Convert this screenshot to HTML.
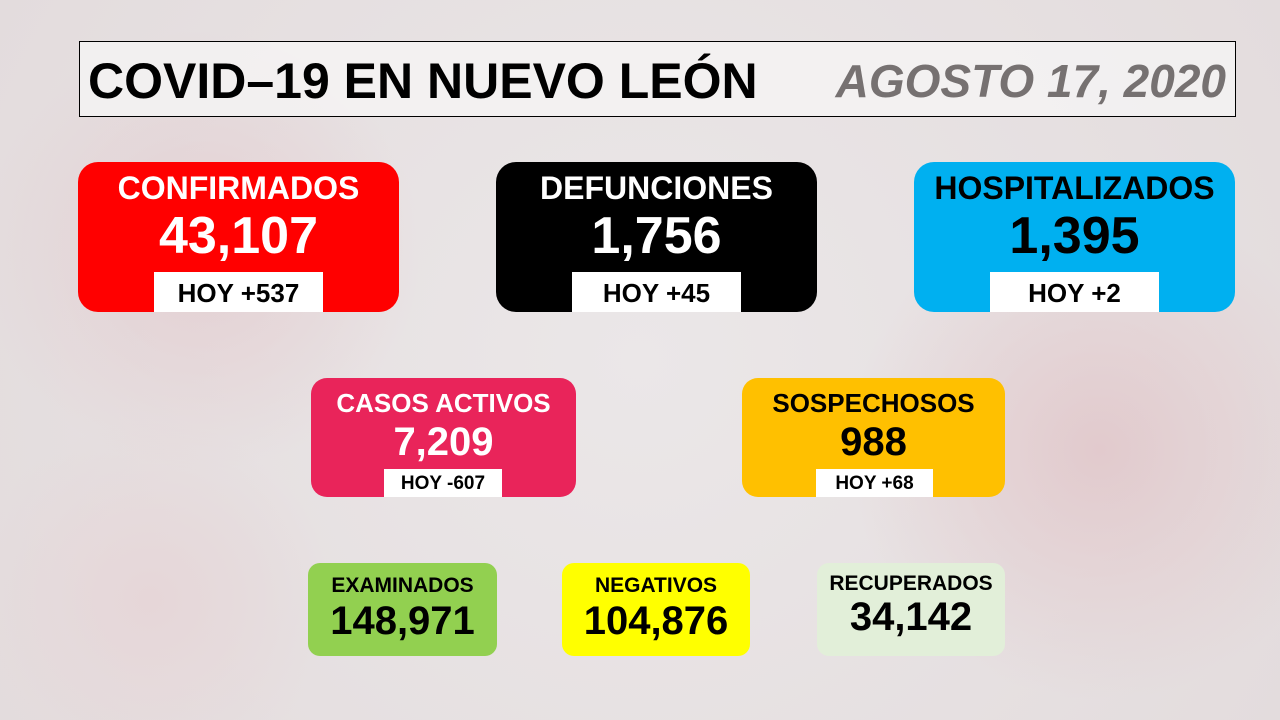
<!DOCTYPE html>
<html><head><meta charset="utf-8"><style>
body{margin:0;width:1280px;height:720px;overflow:hidden;font-family:"Liberation Sans",sans-serif;font-weight:bold;
background:radial-gradient(circle at 200px 250px,#e4cfd2 0,transparent 220px),radial-gradient(circle at 1100px 450px,#e2cacd 0,transparent 250px),radial-gradient(circle at 150px 600px,#e6d6d8 0,transparent 180px),radial-gradient(circle at 640px 360px,#ebe7e8 0,#e3dcdd 100%);position:relative}
.a{position:absolute;box-sizing:border-box}
.box{border-radius:20px;text-align:center}
.t,.n{position:absolute;left:0;right:0;text-align:center;line-height:1}
.l{position:absolute;background:#fff;color:#000;text-align:center}
</style></head><body>
<div class="a" style="left:79px;top:41px;width:1157px;height:76px;border:1px solid #000;background:rgba(245,243,243,.85)"></div>
<div class="a" style="left:88px;top:53px;font-size:50px;line-height:56px;color:#000">COVID–19 EN NUEVO LEÓN</div>
<div class="a" style="right:54px;top:53px;font-size:46px;line-height:56px;color:#767171;font-style:italic">AGOSTO 17, 2020</div>

<div class="a box" style="left:78px;top:162px;width:321px;height:150px;background:#ff0000;color:#fff">
<div class="t" style="top:10px;font-size:32px">CONFIRMADOS</div><div class="n" style="top:48px;font-size:52px">43,107</div>
<div class="l" style="left:76px;top:110px;width:169px;height:40px;font-size:26px;line-height:42px">HOY +537</div></div>
<div class="a box" style="left:496px;top:162px;width:321px;height:150px;background:#000;color:#fff">
<div class="t" style="top:10px;font-size:32px">DEFUNCIONES</div><div class="n" style="top:48px;font-size:52px">1,756</div>
<div class="l" style="left:76px;top:110px;width:169px;height:40px;font-size:26px;line-height:42px">HOY +45</div></div>
<div class="a box" style="left:914px;top:162px;width:321px;height:150px;background:#00b0f0;color:#000">
<div class="t" style="top:10px;font-size:32px">HOSPITALIZADOS</div><div class="n" style="top:48px;font-size:52px">1,395</div>
<div class="l" style="left:76px;top:110px;width:169px;height:40px;font-size:26px;line-height:42px">HOY +2</div></div>

<div class="a box" style="left:311px;top:378px;width:265px;height:119px;background:#e9245a;color:#fff;border-radius:16px">
<div class="t" style="top:12px;font-size:26px">CASOS ACTIVOS</div><div class="n" style="top:44px;font-size:40px">7,209</div>
<div class="l" style="left:73px;top:91px;width:118px;height:28px;font-size:19px;line-height:30px">HOY -607</div></div>
<div class="a box" style="left:742px;top:378px;width:263px;height:119px;background:#ffc000;color:#000;border-radius:16px">
<div class="t" style="top:12px;font-size:26px">SOSPECHOSOS</div><div class="n" style="top:44px;font-size:40px">988</div>
<div class="l" style="left:74px;top:91px;width:117px;height:28px;font-size:19px;line-height:30px">HOY +68</div></div>

<div class="a box" style="left:308px;top:563px;width:189px;height:93px;background:#92d050;color:#000;border-radius:12px">
<div class="t" style="top:12px;font-size:21px">EXAMINADOS</div><div class="n" style="top:38px;font-size:40px">148,971</div></div>
<div class="a box" style="left:562px;top:563px;width:188px;height:93px;background:#ffff00;color:#000;border-radius:12px">
<div class="t" style="top:12px;font-size:21px">NEGATIVOS</div><div class="n" style="top:38px;font-size:40px">104,876</div></div>
<div class="a box" style="left:817px;top:563px;width:188px;height:93px;background:#e2efd9;color:#000;border-radius:12px">
<div class="t" style="top:10px;font-size:21px">RECUPERADOS</div><div class="n" style="top:34px;font-size:40px">34,142</div></div>
</body></html>
